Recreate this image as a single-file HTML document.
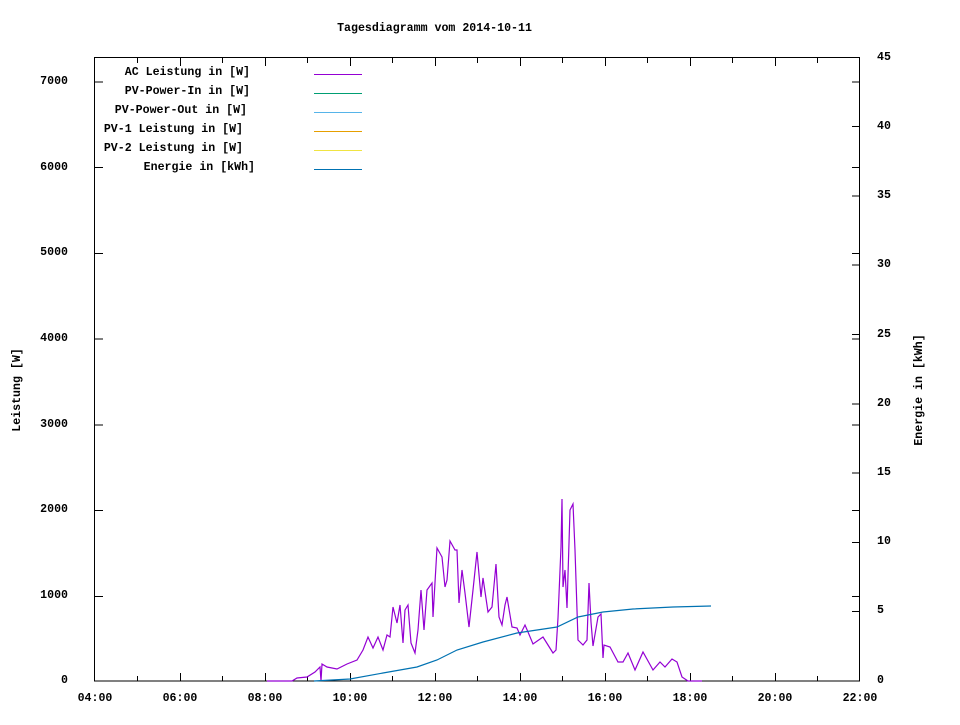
<!DOCTYPE html>
<html><head><meta charset="utf-8"><style>
html,body{margin:0;padding:0;background:#fff;}
svg text{font-family:"Liberation Mono","DejaVu Sans Mono",monospace;font-weight:bold;font-size:11.6px;fill:#000;}
</style></head><body>
<svg width="960" height="720" viewBox="0 0 960 720" xmlns="http://www.w3.org/2000/svg">
<rect width="960" height="720" fill="#fff"/>
<text x="434.5" y="31" text-anchor="middle">Tagesdiagramm vom 2014-10-11</text>
<g stroke="#000" stroke-width="1" fill="none" shape-rendering="crispEdges">
<rect x="94.5" y="57.5" width="765" height="623.5"/>
<path d="M95 681H103M95 596.3H103M95 510.6H103M95 424.9H103M95 339.1H103M95 253.4H103M95 167.7H103M95 82H103
M860 596.3H852M860 510.6H852M860 424.9H852M860 339.1H852M860 253.4H852M860 167.7H852M860 82H852"/>
<path d="M860 611.7H852M860 542.4H852M860 473.1H852M860 403.8H852M860 334.4H852M860 265.1H852M860 195.8H852M860 126.5H852"/>
<path d="M137.5 681V676M222.5 681V676M307.5 681V676M392.5 681V676M477.5 681V676M562.5 681V676M647.5 681V676M732.5 681V676M817.5 681V676
M180.5 681V673M265.5 681V673M350.5 681V673M435.5 681V673M520.5 681V673M605.5 681V673M690.5 681V673M775.5 681V673
M137.5 58V63M222.5 58V63M307.5 58V63M392.5 58V63M477.5 58V63M562.5 58V63M647.5 58V63M732.5 58V63M817.5 58V63
M180.5 58V66M265.5 58V66M350.5 58V66M435.5 58V66M520.5 58V66M605.5 58V66M690.5 58V66M775.5 58V66"/>
</g>
<g text-anchor="end">
<text x="68" y="683">0</text><text x="68" y="598">1000</text><text x="68" y="512">2000</text><text x="68" y="427">3000</text>
<text x="68" y="341">4000</text><text x="68" y="255">5000</text><text x="68" y="170">6000</text><text x="68" y="84">7000</text>
</g>
<g>
<text x="877" y="683">0</text><text x="877" y="613">5</text><text x="877" y="544">10</text><text x="877" y="475">15</text>
<text x="877" y="406">20</text><text x="877" y="337">25</text><text x="877" y="267">30</text><text x="877" y="198">35</text>
<text x="877" y="129">40</text><text x="877" y="60">45</text>
</g>
<g text-anchor="middle">
<text x="95" y="701">04:00</text><text x="180" y="701">06:00</text><text x="265" y="701">08:00</text><text x="350" y="701">10:00</text>
<text x="435" y="701">12:00</text><text x="520" y="701">14:00</text><text x="605" y="701">16:00</text><text x="690" y="701">18:00</text>
<text x="775" y="701">20:00</text><text x="860" y="701">22:00</text>
</g>
<text transform="translate(20,390) rotate(-90)" text-anchor="middle">Leistung [W]</text>
<text transform="translate(922,390) rotate(-90)" text-anchor="middle">Energie in [kWh]</text>
<g text-anchor="end">
<text x="250" y="75">AC Leistung in [W]</text>
<text x="250" y="94">PV-Power-In in [W]</text>
<text x="247" y="113">PV-Power-Out in [W]</text>
<text x="243" y="132">PV-1 Leistung in [W]</text>
<text x="243" y="151">PV-2 Leistung in [W]</text>
<text x="255" y="170">Energie in [kWh]</text>
</g>
<g stroke-width="1" shape-rendering="crispEdges">
<path d="M314 74.5H362" stroke="#9400d3"/>
<path d="M314 93.5H362" stroke="#009e73"/>
<path d="M314 112.5H362" stroke="#56b4e9"/>
<path d="M314 131.5H362" stroke="#e69f00"/>
<path d="M314 150.5H362" stroke="#f0e442"/>
<path d="M314 169.5H362" stroke="#0072b2"/>
</g>
<polyline fill="none" stroke="#9400d3" stroke-width="1.2" points="267,681 292,681 297,678 307,677 315,672 320,667 321,681 322,664 327,667 337,669 347,664 357,660 363,650 368,637 373,648 378,637 383,650 387,635 390,637 393,607 397,623 400,605 403,643 405,610 408,605 411,643 415,653 418,630 421,590 424,630 427,590 432,583 433,617 437,548 442,557 445,587 447,580 450,541 455,550 457,550 459,603 462,570 465,593 469,627 473,590 477,552 481,597 483,578 488,612 492,607 496,564 499,617 502,625 505,605 507,597 512,627 517,628 520,635 525,625 528,632 533,644 543,637 548,645 553,653 556,650 558,618 561,547 562,499 563,587 565,570 567,608 570,510 573,504 575,550 578,640 583,645 587,640 589,583 591,622 593,646 598,617 601,614 603,658 604,645 610,647 618,662 623,662 628,653 635,670 643,652 653,670 660,662 665,667 672,659 677,662 682,677 688,681 702,681"/>
<polyline fill="none" stroke="#0072b2" stroke-width="1.2" points="314,681 350,679 383,673 417,667 437,660 457,650 483,642 517,633 557,627 578,617 603,612 633,609 673,607 711,606"/>
</svg>
</body></html>
